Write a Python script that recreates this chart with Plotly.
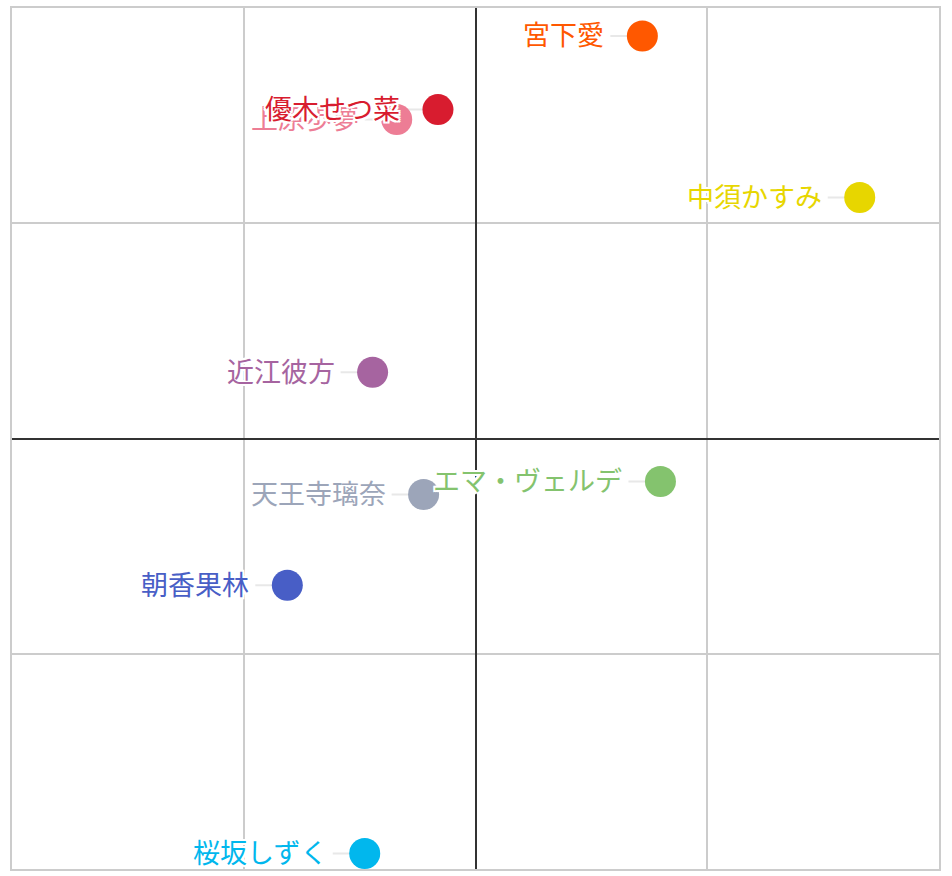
"""
Scatter map of the Nijigasaki members
"""
import plotly.graph_objects as go

names = ["上原歩夢", "優木せつ菜", "宮下愛", "中須かすみ", "近江彼方",
         "天王寺璃奈", "エマ・ヴェルデ", "朝香果林", "桜坂しずく"]
x_vals = [-17.0, -8.1, 36.0, 82.9, -22.2, -11.2, 39.9, -40.6, -23.9]
y_vals = [74.1, 76.4, 93.5, 56.0, 15.4, -13.0, -10.0, -34.1, -96.4]
colors = ["#ED7D95", "#D81C2F", "#FF5800", "#E7D600", "#A664A0",
          "#9CA5B9", "#84C36E", "#485EC6", "#01B7ED"]

FONT = "Noto Sans CJK JP, Noto Sans, sans-serif"
HALO = ("-2px -2px 0 #fff, 2px -2px 0 #fff, -2px 2px 0 #fff, 2px 2px 0 #fff, "
        "0 -2px 0 #fff, 0 2px 0 #fff, -2px 0 0 #fff, 2px 0 0 #fff")

fig = go.Figure()

shapes = []
annotations = []
for name, x, y, c in zip(names, x_vals, y_vals, colors):
    # trait entre le nom et le point
    shapes.append(dict(type="line", xref="x", yref="y",
                       xsizemode="pixel", xanchor=x, x0=-32, x1=0,
                       y0=y, y1=y, layer="below",
                       line=dict(color="#e8e8e8", width=2)))
    fig.add_trace(go.Scatter(x=[x], y=[y], mode="markers", name=name,
                             marker=dict(size=31, color=c, line=dict(width=0)),
                             hoverinfo="text", text=[name]))
    annotations.append(dict(x=x, y=y, xref="x", yref="y", text=name,
                            showarrow=False, xanchor="right", yanchor="middle",
                            xshift=-36, yshift=2,
                            font=dict(family=FONT, size=27, color=c, shadow=HALO)))

axis = dict(range=[-100, 100], dtick=50, showticklabels=False,
            showgrid=True, gridcolor="#cccccc", gridwidth=2,
            zeroline=True, zerolinecolor="#333333", zerolinewidth=2,
            showline=True, linecolor="#cccccc", linewidth=2, mirror=True,
            fixedrange=True)

fig.update_layout(width=952, height=876,
                  margin=dict(l=12, r=13, t=6, b=7),
                  paper_bgcolor="white", plot_bgcolor="white",
                  showlegend=False,
                  xaxis=axis, yaxis=axis,
                  shapes=shapes, annotations=annotations)

fig.write_html("out.html", config={"displayModeBar": False},
               post_script="document.body.style.margin='0';")
